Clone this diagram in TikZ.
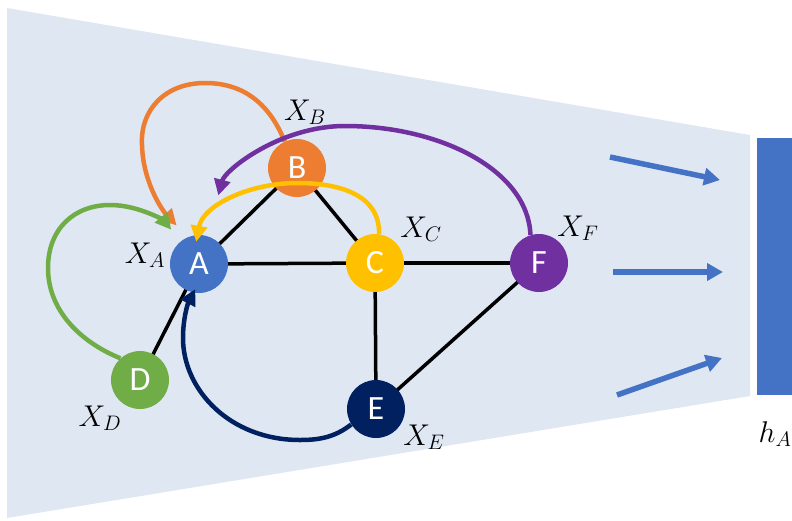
\RequirePackage{fix-cm}
\documentclass[tikz,border=0pt]{standalone}
\usepackage{fontspec}
\newfontfamily\nodefont{Carlito}
\usetikzlibrary{arrows.meta}
\definecolor{bgblue}{HTML}{DFE7F3}
\definecolor{cA}{HTML}{4472C4}
\definecolor{cB}{HTML}{ED7D31}
\definecolor{cC}{HTML}{FFC000}
\definecolor{cD}{HTML}{70AD47}
\definecolor{cE}{HTML}{002060}
\definecolor{cF}{HTML}{7030A0}
\tikzset{
  gnode/.style={circle, minimum size=58pt, inner sep=0pt, text=white,
    font=\nodefont\fontsize{34}{40}\selectfont},
  lbl/.style={inner sep=0pt, font=\fontsize{30}{34}\selectfont},
  edge/.style={line width=3.5pt, black},
  loop/.style={line width=4.5pt, -{Triangle[length=16pt,width=16pt]}},
  flow/.style={line width=5.5pt, cA, -{Triangle[length=16pt,width=17pt]}}
}
\begin{document}
\begin{tikzpicture}[x=1pt,y=-1pt]
\useasboundingbox (0,0) rectangle (792,520);
\fill[bgblue] (7,8) -- (750,135) -- (750,396) -- (7,518) -- cycle;
\fill[cA] (757,138) rectangle (792,395);

% node positions
\coordinate (pA) at (199,264);
\coordinate (pB) at (297,168);
\coordinate (pC) at (375,263);
\coordinate (pD) at (140,380);
\coordinate (pE) at (376,409);
\coordinate (pF) at (539,263);

% edges
\draw[edge] (pA) -- (pB);
\draw[edge] (pB) -- (pC);
\draw[edge] (pA) -- (pC);
\draw[edge] (pA) -- (pD);
\draw[edge] (pC) -- (pE);
\draw[edge] (pE) -- (pF);
\draw[edge] (pC) -- (pF);

% nodes
\node[gnode, fill=cA] (A) at (pA) {A};
\node[gnode, fill=cB] (B) at (pB) {B};
\node[gnode, fill=cC] (C) at (pC) {C};
\node[gnode, fill=cD] (D) at (pD) {D};
\node[gnode, fill=cE] (E) at (pE) {E};
\node[gnode, fill=cF] (F) at (pF) {F};

% labels
\node[lbl] (lA) at (145,255) {$X_A$};
\node[lbl] (lB) at (305,112) {$X_B$};
\node[lbl] (lC) at (421,229) {$X_C$};
\node[lbl] (lD) at (100,418) {$X_D$};
\node[lbl] (lE) at (424,437) {$X_E$};
\node[lbl] (lF) at (578,228) {$X_F$};
\node[lbl] (lh) at (775,434) {$h_A$};

% curved arrows
\draw[loop, cB, shorten >=16pt] (B.115) .. controls (268,100) and (240,83) .. (205,83)
  .. controls (165,83) and (140,110) .. (142,145)
  .. controls (143,182) and (162,210) .. (A.113);
\draw[loop, cD, shorten >=15pt] (D.132) .. controls (80,342) and (48,310) .. (48,268)
  .. controls (48,228) and (75,205) .. (110,205)
  .. controls (140,205) and (165,222) .. (A.129);
\draw[loop, cF, shorten >=42pt] (F.107) .. controls (528,170) and (440,126) .. (345,126)
  .. controls (280,126) and (225,170) .. (A.73);
\draw[loop, cC, shorten >=-7pt] (C.82) .. controls (380,195) and (340,183) .. (297,183)
  .. controls (250,183) and (203,205) .. (A.93);
\draw[loop, cE, shorten >=-4pt] (E.212) .. controls (335,437) and (320,440) .. (300,440)
  .. controls (230,440) and (183,390) .. (183,338)
  .. controls (183,318) and (188,303) .. (A.259);

% flow arrows
\coordinate (f1s) at (610,157); \coordinate (f1e) at (720,180);
\coordinate (f2s) at (613,272); \coordinate (f2e) at (723,272);
\coordinate (f3s) at (617,395); \coordinate (f3e) at (722,358);
\draw[flow] (f1s) -- (f1e);
\draw[flow] (f2s) -- (f2e);
\draw[flow] (f3s) -- (f3e);
\end{tikzpicture}
\end{document}
